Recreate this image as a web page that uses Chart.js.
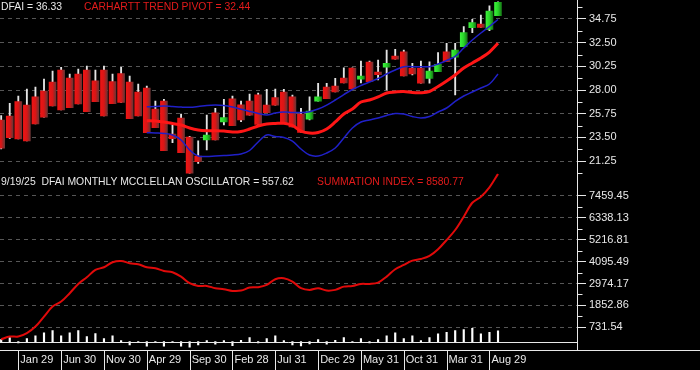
<!DOCTYPE html>
<html lang="en">
<head>
<meta charset="UTF-8">
<title>DFAI Monthly</title>
<script src="https://cdn.jsdelivr.net/npm/chart.js"></script>
<style>
    body { margin: 0; background: #000; }
    .wrap { position: relative; width: 700px; height: 370px; overflow: hidden; }
    canvas { position: absolute; left: 0; top: 0; }
    .title {
        position: absolute;
        font-family: 'Liberation Sans', Arial, sans-serif;
        font-size: 10.4px;
        line-height: 12px;
        white-space: pre;
        color: #e8e8e8;
    }
    .red { color: #e41b1b; }
</style>
</head>
<body>
<div class="wrap">
    <canvas id="chart" width="700" height="370"></canvas>
    <div class="title" style="left:1px;top:1px">DFAI = 36.33</div>
    <div class="title red" style="left:84px;top:1px">CARHARTT TREND PIVOT = 32.44</div>
    <div class="title" style="left:1px;top:176px">9/19/25  DFAI MONTHLY MCCLELLAN OSCILLATOR = 557.62</div>
    <div class="title red" style="left:317px;top:176px">SUMMATION INDEX = 8580.77</div>
</div>
<script>
// monthly candles, index 0 = Nov 2020 ... 58 = Sep 2025
const opens = [25.15, 25.53, 26.89, 26.57, 27.36, 27.91, 28.76, 29.90, 29.14, 29.52,
    29.90, 28.88, 29.90, 28.79, 29.55, 28.76, 27.81, 28.19, 26.19, 26.95,
    23.82, 25.34, 23.53, 21.73, 23.25, 25.84, 24.96, 27.17, 26.60, 26.95,
    27.55, 26.57, 27.27, 27.81, 27.34, 25.72, 25.24, 26.95, 28.29, 28.38,
    29.14, 30.09, 29.02, 30.66, 29.71, 30.16, 31.23, 31.64, 30.06, 30.06,
    29.11, 29.74, 31.64, 31.11, 32.12, 33.92, 34.27, 33.77, 35.06];
const highs = [25.56, 26.74, 27.43, 28.10, 28.29, 29.05, 29.81, 30.16, 29.52, 30.00,
    30.28, 29.90, 30.28, 29.52, 30.16, 29.33, 28.57, 28.38, 26.95, 27.12,
    24.67, 25.72, 23.60, 23.18, 25.62, 26.26, 27.12, 27.43, 26.95, 27.62,
    27.72, 28.07, 28.10, 28.07, 27.53, 26.26, 27.36, 28.64, 28.64, 29.11,
    30.12, 30.12, 30.76, 30.76, 30.85, 31.80, 31.87, 31.80, 30.54, 30.76,
    30.69, 31.55, 32.44, 32.44, 34.02, 34.72, 35.13, 35.99, 36.39];
const lows = [22.39, 23.41, 23.34, 23.15, 24.77, 25.43, 26.48, 26.10, 26.32, 26.67,
    25.94, 26.89, 25.53, 26.70, 26.83, 25.27, 25.53, 23.94, 24.42, 22.23,
    22.99, 22.04, 19.95, 21.03, 22.30, 23.25, 24.67, 24.61, 24.99, 25.62,
    24.74, 25.84, 26.57, 24.82, 24.48, 23.96, 25.15, 26.95, 27.17, 27.81,
    28.67, 28.10, 28.67, 28.79, 28.95, 28.00, 30.92, 29.33, 29.43, 28.64,
    28.64, 29.74, 30.69, 27.53, 32.12, 33.45, 33.96, 33.64, 35.06];
const closes = [22.46, 23.47, 23.34, 23.15, 24.77, 25.43, 26.48, 26.10, 26.32, 26.67,
    25.94, 26.89, 25.53, 26.70, 26.83, 25.27, 25.53, 23.94, 24.42, 22.23,
    23.37, 22.04, 19.95, 21.18, 23.72, 23.25, 25.37, 24.61, 25.15, 25.62,
    24.74, 25.84, 26.57, 24.82, 24.48, 23.96, 26.00, 27.34, 27.17, 27.81,
    28.67, 28.10, 29.33, 28.79, 29.46, 30.54, 30.92, 29.33, 29.52, 28.64,
    29.81, 30.44, 30.69, 31.80, 33.45, 34.40, 33.96, 35.51, 36.33];

// trend pivot and bands begin at month 17
const bandStart = 17;
const pivot = [25.08, 25.05, 24.96, 24.82, 24.67, 24.39, 24.20, 24.13, 24.13, 24.10,
    24.01, 24.06, 24.29, 24.58, 24.77, 24.82, 24.84, 24.63, 24.10, 23.91,
    23.96, 24.29, 24.96, 25.72, 26.19, 26.86, 27.05, 27.34, 27.72, 27.81,
    27.86, 27.76, 27.74, 27.86, 28.33, 28.86, 29.43, 30.09, 30.57, 31.04,
    31.61, 32.44];
const upperBand = [26.41, 26.43, 26.48, 26.43, 26.38, 26.36, 26.43, 26.53, 26.57, 26.53,
    26.38, 26.17, 25.96, 25.77, 25.62, 25.81, 25.91, 25.86, 25.86, 25.94,
    26.19, 26.57, 27.05, 27.57, 28.05, 28.43, 28.76, 29.09, 29.52, 29.90,
    30.22, 30.22, 30.22, 30.22, 30.47, 30.80, 31.19, 31.99, 32.75, 33.42,
    34.04, 34.70];
const lowerBand = [23.94, 23.91, 23.87, 23.72, 23.25, 22.30, 21.73, 21.68, 21.73, 21.77,
    21.82, 21.92, 22.25, 23.06, 23.72, 23.58, 23.49, 23.15, 22.39, 21.82,
    21.73, 22.01, 22.49, 23.44, 24.39, 24.96, 25.15, 25.34, 25.58, 25.77,
    25.72, 25.48, 25.34, 25.48, 25.91, 26.29, 26.91, 27.43, 27.81, 28.19,
    28.57, 29.52];

// lower panel
const summation = [120, 260, 260, 434, 771, 1282, 1793, 2048, 2477, 2952,
    3294, 3667, 3805, 4061, 4127, 4010, 3959, 3805, 3754, 3616,
    3550, 3325, 2988, 2850, 2850, 2733, 2682, 2595, 2610, 2763,
    2784, 2901, 3192, 3243, 3070, 2733, 2646, 2733, 2610, 2646,
    2814, 2850, 2952, 2952, 3020, 3325, 3703, 3923, 4143, 4229,
    4383, 4725, 5200, 5711, 6392, 7105, 7412, 7891, 8580.77];
const oscillator = [100, 204, -68, 153, 290, 443, 562, 290, 443, 562,
    255, 409, 153, 290, 51, -170, 0, -238, 0, -238,
    0, -238, -290, -170, 51, -136, 51, -204, 68, 204,
    -68, 153, 290, 51, -170, -221, -119, 102, -136, 68,
    204, 0, 153, -68, 102, 290, 443, 153, 290, 51,
    204, 392, 476, 562, 613, 681, 392, 476, 557.62];

const xTickMonths = [2, 7, 12, 17, 22, 27, 32, 37, 42, 47, 52, 57];
const xTickLabels = ['Jan 29', 'Jun 30', 'Nov 30', 'Apr 29', 'Sep 30', 'Feb 28',
    'Jul 31', 'Dec 29', 'May 31', 'Oct 31', 'Mar 31', 'Aug 29'];
const priceTicks = [34.75, 32.50, 30.25, 28.00, 25.75, 23.50, 21.25];
const summationTicks = [7459.45, 6338.13, 5216.81, 4095.49, 2974.17, 1852.86, 731.54];

// half steps for the short tick marks
const priceStep = priceTicks[0] - priceTicks[1];
const minorPrice = [priceTicks[0] + priceStep / 2]
    .concat(priceTicks.map(v => v - priceStep / 2));
const minorSummation = summationTicks.slice(1).map((v, i) => (v + summationTicks[i]) / 2);

const months = opens.map((_, i) => i);
const overlay = arr => arr.map((v, i) => ({ x: bandStart + i, y: v }));

function bodyFill(c) {
    const i = c.dataIndex;
    const up = closes[i] >= opens[i];
    const stops = up ? ['#3cf03c', '#27d427', '#177a17'] : ['#ee1414', '#d91616', '#6c3434'];
    const xs = c.chart.scales.x;
    if (!c.chart.chartArea || !xs) return stops[1];
    const px = xs.getPixelForValue(i);
    const g = c.chart.ctx.createLinearGradient(px - 3.5, 0, px + 3.5, 0);
    g.addColorStop(0, stops[0]);
    g.addColorStop(0.5, stops[1]);
    g.addColorStop(1, stops[2]);
    return g;
}

const frame = {
    id: 'frame',
    beforeDraw(chart) {
        const ctx = chart.ctx;
        ctx.save();
        ctx.fillStyle = '#000';
        ctx.fillRect(0, 0, chart.width, chart.height);
        ctx.restore();
    },
    afterDatasetsDraw(chart) {
        const { ctx, chartArea: a, scales } = chart;
        const r = Math.round(a.right) + 0.5;
        const b = Math.round(a.bottom) + 0.5;
        const z = Math.round(scales.ys.getPixelForValue(0)) + 0.5;
        ctx.save();
        ctx.strokeStyle = '#e8e8e8';
        ctx.lineWidth = 1;
        ctx.beginPath();
        ctx.moveTo(r, 0); ctx.lineTo(r, b);
        ctx.moveTo(0, z); ctx.lineTo(r, z);
        ctx.moveTo(0, b); ctx.lineTo(chart.width, b);
        xTickMonths.forEach(k => {
            const x = Math.round(scales.x.getPixelForValue(k)) + 0.5;
            ctx.moveTo(x, b); ctx.lineTo(x, chart.height);
        });
        minorPrice.forEach(v => {
            const y = Math.round(scales.yp.getPixelForValue(v)) + 0.5;
            ctx.moveTo(r, y); ctx.lineTo(r + 5, y);
        });
        minorSummation.forEach(v => {
            const y = Math.round(scales.ys.getPixelForValue(v)) + 0.5;
            ctx.moveTo(r, y); ctx.lineTo(r + 5, y);
        });
        ctx.stroke();
        ctx.restore();
    }
};

const axisFont = { family: "'Liberation Sans', Arial, sans-serif", size: 11 };

const yAxis = (ticks, fmt) => ({
    type: 'linear',
    position: 'right',
    stack: 'panels',
    afterBuildTicks: s => { s.ticks = ticks.map(v => ({ value: v })); },
    afterFit: s => { s.width = 123; s.paddingTop = 0; s.paddingBottom = 0; },
    grid: { color: '#565656', tickColor: '#e8e8e8', tickLength: 9, lineWidth: 1 },
    border: { display: false, dash: [4, 4] },
    ticks: { color: '#e8e8e8', padding: 3, font: axisFont, autoSkip: false, callback: fmt }
});

new Chart(document.getElementById('chart'), {
    type: 'bar',
    data: {
        datasets: [
            {
                type: 'line', label: 'Pivot', yAxisID: 'yp', order: 0,
                data: overlay(pivot), borderColor: '#ff1616', borderWidth: 3,
                pointRadius: 0, tension: 0.35
            },
            {
                type: 'line', label: 'Upper', yAxisID: 'yp', order: 0,
                data: overlay(upperBand), borderColor: '#2020c8', borderWidth: 1.5,
                pointRadius: 0, tension: 0.35
            },
            {
                type: 'line', label: 'Lower', yAxisID: 'yp', order: 0,
                data: overlay(lowerBand), borderColor: '#2020c8', borderWidth: 1.5,
                pointRadius: 0, tension: 0.35
            },
            {
                type: 'bar', label: 'Body', yAxisID: 'yp', order: 1, grouped: false,
                data: months.map(i => ({ x: i, y: [opens[i], closes[i]] })),
                backgroundColor: bodyFill, barThickness: 7
            },
            {
                type: 'bar', label: 'Range', yAxisID: 'yp', order: 2, grouped: false,
                data: months.map(i => ({ x: i, y: [lows[i], highs[i]] })),
                backgroundColor: '#e4e4e4', barThickness: 1.2
            },
            {
                type: 'line', label: 'Summation', yAxisID: 'ys', order: 0,
                data: months.map(i => ({ x: i, y: summation[i] })),
                borderColor: '#e00a0a', borderWidth: 2, pointRadius: 0, tension: 0.35
            },
            {
                type: 'bar', label: 'Oscillator', yAxisID: 'ys', order: 1, grouped: false,
                data: months.map(i => ({ x: i, y: oscillator[i] })),
                backgroundColor: '#ffffff', barThickness: 1.5
            }
        ]
    },
    options: {
        responsive: false,
        animation: false,
        events: [],
        layout: { padding: 0 },
        plugins: { legend: { display: false }, tooltip: { enabled: false } },
        scales: {
            x: {
                type: 'linear', position: 'bottom', offset: false,
                min: -0.137, max: 67.22,
                afterBuildTicks: s => { s.ticks = xTickMonths.map(v => ({ value: v })); },
                afterFit: s => { s.height = 20; s.paddingLeft = 0; s.paddingRight = 0; },
                grid: { display: false, drawTicks: false },
                border: { display: false },
                ticks: {
                    color: '#e8e8e8', font: axisFont, align: 'start', labelOffset: 2,
                    padding: 3, autoSkip: false, maxRotation: 0, minRotation: 0,
                    callback: v => xTickLabels[xTickMonths.indexOf(v)]
                }
            },
            yp: Object.assign(yAxis(priceTicks, v => v.toFixed(2)),
                { stackWeight: 173.5, min: 20.064, max: 36.556 }),
            ys: Object.assign(yAxis(summationTicks, v => v.toFixed(2)),
                { stackWeight: 176.5, min: -429, max: 8600 })
        }
    },
    plugins: [frame]
});
</script>
</body>
</html>
